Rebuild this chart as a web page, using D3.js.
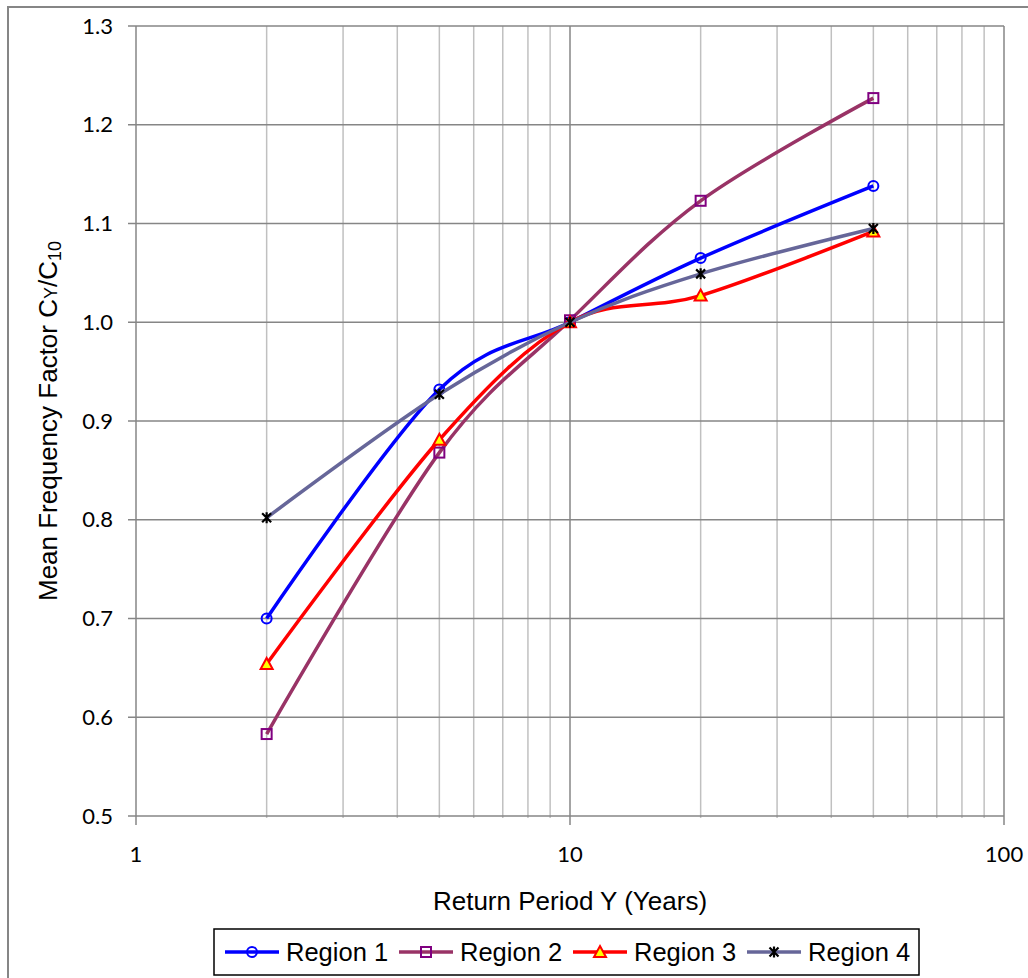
<!DOCTYPE html>
<html>
<head>
<meta charset="utf-8">
<script src="https://cdn.jsdelivr.net/npm/d3@7"></script>
<style>
  body { margin: 0; background: #fff; }
  .tick-label { font-family: Lato, "Open Sans", sans-serif; font-size: 22px; fill: #000; }
  .title { font-family: "Liberation Sans", Arial, sans-serif; font-size: 26px; fill: #000; }
  .legend-text { font-family: "Liberation Sans", Arial, sans-serif; font-size: 25.5px; fill: #000; }
</style>
</head>
<body>
<svg id="chart"></svg>
<script>
(function (d3) {
    'use strict';

    // data
    var returnPeriods = [2, 5, 10, 20, 50];
    var seriesNames = ['Region 1', 'Region 2', 'Region 3', 'Region 4'];
    var region1 = [0.700, 0.932, 1.000, 1.065, 1.138];
    var region2 = [0.583, 0.868, 1.002, 1.123, 1.227];
    var region3 = [0.654, 0.881, 1.000, 1.027, 1.092];
    var region4 = [0.802, 0.927, 1.000, 1.049, 1.095];
    var yTicks = [0.5, 0.6, 0.7, 0.8, 0.9, 1.0, 1.1, 1.2, 1.3];
    var xTicks = [1, 10, 100];

    var width = 1028,
        height = 978,
        margin = { top: 26, right: 24, bottom: 162, left: 136 };

    var svg = d3.select('#chart')
        .attr('width', width)
        .attr('height', height);

    var x = d3.scaleLog().domain([1, 100]).range([margin.left, width - margin.right]),
        y = d3.scaleLinear().domain([0.5, 1.3]).range([height - margin.bottom, margin.top]);

    var styles = [
        { line: '#0000ff', marker: 'circle' },
        { line: '#993366', marker: 'square' },
        { line: '#ff0000', marker: 'triangle' },
        { line: '#666699', marker: 'star' }
    ];
    var seriesValues = [region1, region2, region3, region4];

    // outer chart border
    svg.append('rect')
        .attr('x', 8).attr('y', 7)
        .attr('width', width + 10).attr('height', height + 10)
        .attr('fill', 'none')
        .attr('stroke', '#868686')
        .attr('stroke-width', 2);

    // minor vertical grid
    var minor = [];
    [1, 10].forEach(function (base) {
        for (var k = 2; k <= 9; k++) minor.push(base * k);
    });

    svg.append('g').selectAll('line')
        .data(minor)
        .enter().append('line')
        .attr('x1', function (d) { return x(d); })
        .attr('x2', function (d) { return x(d); })
        .attr('y1', y(1.3))
        .attr('y2', y(0.5) + 2)
        .attr('stroke', '#c0c0c0')
        .attr('stroke-width', 1.5);

    // horizontal grid
    svg.append('g').selectAll('line')
        .data(yTicks)
        .enter().append('line')
        .attr('x1', x(1) - 8)
        .attr('x2', x(100))
        .attr('y1', function (d) { return y(d); })
        .attr('y2', function (d) { return y(d); })
        .attr('stroke', '#868686')
        .attr('stroke-width', 1.5);

    // major vertical grid
    svg.append('g').selectAll('line')
        .data(xTicks)
        .enter().append('line')
        .attr('x1', function (d) { return x(d); })
        .attr('x2', function (d) { return x(d); })
        .attr('y1', y(1.3))
        .attr('y2', y(0.5) + 9)
        .attr('stroke', '#868686')
        .attr('stroke-width', 1.5);

    // tick labels
    svg.append('g').selectAll('text')
        .data(yTicks)
        .enter().append('text')
        .attr('class', 'tick-label')
        .attr('x', x(1) - 23)
        .attr('y', function (d) { return y(d); })
        .attr('dy', '0.35em')
        .style('text-anchor', 'end')
        .text(d3.format('.1f'));

    svg.append('g').selectAll('text')
        .data(xTicks)
        .enter().append('text')
        .attr('class', 'tick-label')
        .attr('x', function (d) { return x(d); })
        .attr('y', y(0.5) + 38)
        .attr('dy', '0.35em')
        .style('text-anchor', 'middle')
        .text(function (d) { return d; });

    // axis titles
    svg.append('text')
        .attr('class', 'title')
        .attr('x', x(10))
        .attr('y', 910)
        .style('text-anchor', 'middle')
        .text('Return Period Y (Years)');

    var yTitle = svg.append('text')
        .attr('class', 'title')
        .attr('transform', 'translate(57,' + ((y(0.5) + y(1.3)) / 2) + ') rotate(-90)')
        .style('text-anchor', 'middle');
    yTitle.append('tspan').text('Mean Frequency Factor C');
    yTitle.append('tspan').attr('font-size', 18).text('Y');
    yTitle.append('tspan').text('/C');
    yTitle.append('tspan').attr('font-size', 18).attr('dy', 4).text('10');

    var line = d3.line()
        .x(function (d) { return x(d[0]); })
        .y(function (d) { return y(d[1]); })
        .curve(d3.curveCardinal.tension(0));

    function drawMarker(g, kind) {
        if (kind === 'circle') {
            g.append('circle').attr('r', 5)
                .attr('fill', 'none').attr('stroke', '#0000ff').attr('stroke-width', 2);
        } else if (kind === 'square') {
            g.append('rect').attr('x', -5).attr('y', -5).attr('width', 10).attr('height', 10)
                .attr('fill', 'none').attr('stroke', '#800080').attr('stroke-width', 2);
        } else if (kind === 'triangle') {
            g.append('path').attr('d', 'M0,-6L6,5L-6,5Z')
                .attr('fill', '#ffff00').attr('stroke', '#ff0000').attr('stroke-width', 2);
        } else {
            g.append('path').attr('d', 'M-4.5,-4.5L4.5,4.5M-4.5,4.5L4.5,-4.5M0,-5.5L0,5.5')
                .attr('fill', 'none').attr('stroke', '#000').attr('stroke-width', 2.2);
        }
    }

    seriesValues.forEach(function (vals, i) {
        var pts = returnPeriods.map(function (p, j) { return [p, vals[j]]; });
        var g = svg.append('g').attr('class', 'series');

        g.append('path')
            .datum(pts)
            .attr('d', line)
            .attr('fill', 'none')
            .attr('stroke', styles[i].line)
            .attr('stroke-width', 3.5)
            .attr('stroke-linejoin', 'round');

        g.selectAll('.marker')
            .data(pts)
            .enter().append('g')
            .attr('class', 'marker')
            .attr('transform', function (d) { return 'translate(' + x(d[0]) + ',' + y(d[1]) + ')'; })
            .each(function () { drawMarker(d3.select(this), styles[i].marker); });
    });

    // legend
    var legend = svg.append('g').attr('transform', 'translate(214,929)');
    legend.append('rect')
        .attr('width', 705).attr('height', 46)
        .attr('fill', '#fff').attr('stroke', '#000').attr('stroke-width', 1.5);

    var legendX = [11, 185, 359, 533];
    var item = legend.selectAll('.legend-item')
        .data(seriesNames)
        .enter().append('g')
        .attr('class', 'legend-item')
        .attr('transform', function (d, i) { return 'translate(' + legendX[i] + ',23)'; });

    item.append('line')
        .attr('x1', 0).attr('x2', 54)
        .attr('stroke', function (d, i) { return styles[i].line; })
        .attr('stroke-width', 3.5);

    item.append('g')
        .attr('transform', 'translate(27,0)')
        .each(function (d, i) { drawMarker(d3.select(this), styles[i].marker); });

    item.append('text')
        .attr('class', 'legend-text')
        .attr('x', 61)
        .attr('dy', '0.35em')
        .text(function (d) { return d; });

})(window.d3);
</script>
</body>
</html>
